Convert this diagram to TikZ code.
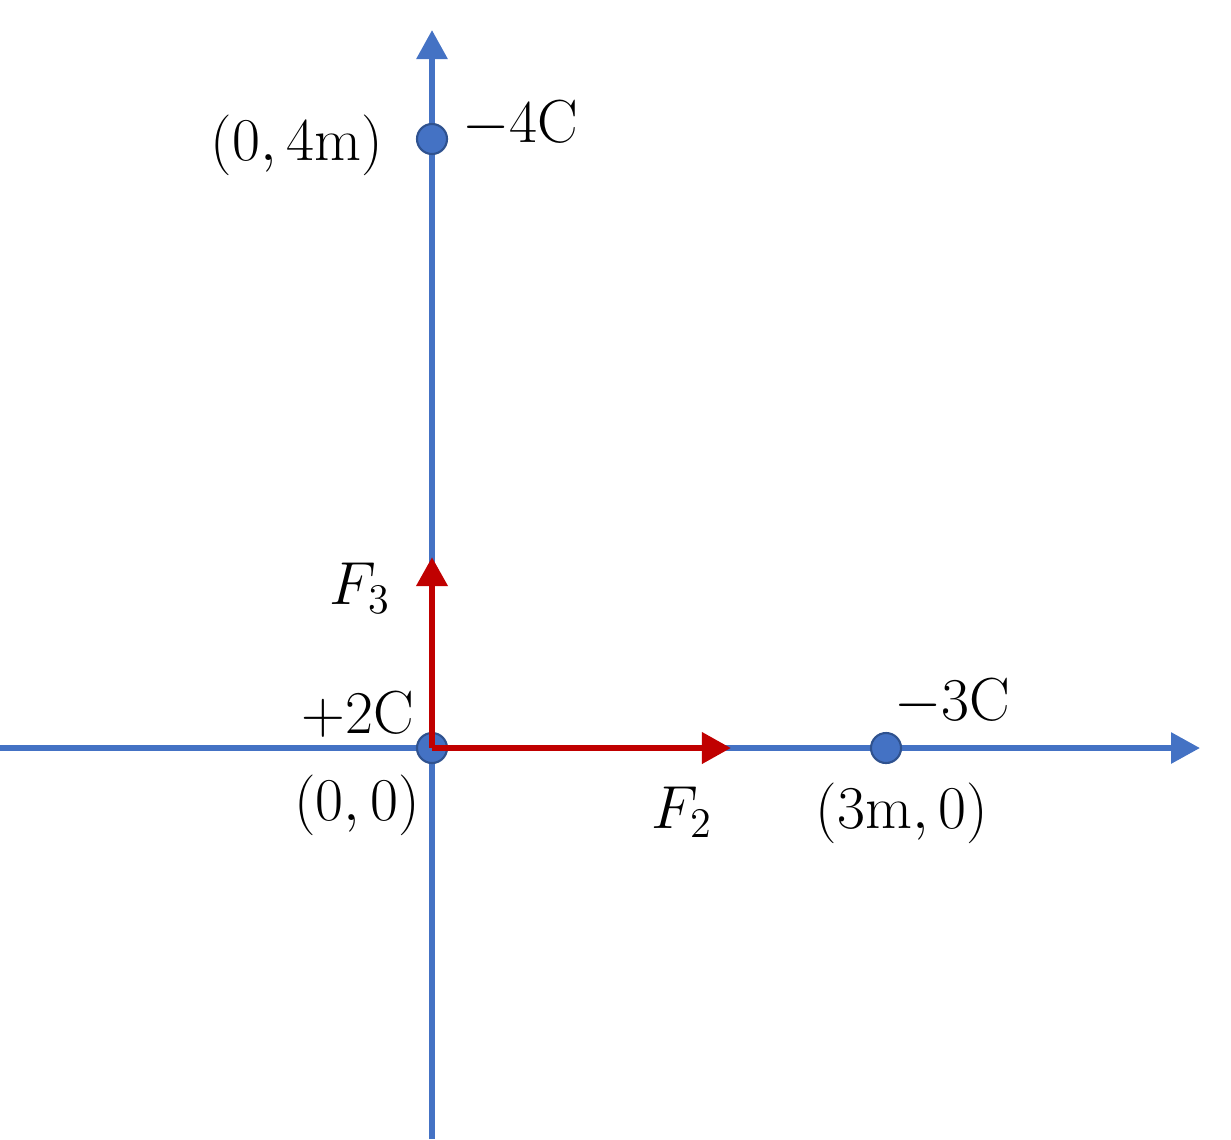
\documentclass[tikz,border=0pt]{standalone}
\usepackage{amsmath}
\usetikzlibrary{arrows.meta}
\definecolor{axisblue}{HTML}{4472C4}
\definecolor{dotedge}{HTML}{2F528F}
\definecolor{forcered}{HTML}{C00000}

\begin{document}
\begin{tikzpicture}[x=0.01cm, y=-0.01cm,
    axis/.style = {draw=axisblue, line width=1.7pt, -{Triangle[length=0.29cm, width=0.3cm]}},
    force/.style = {draw=forcered, line width=1.9pt, -{Triangle[length=0.29cm, width=0.3cm]}},
    charge/.style = {circle, draw=dotedge, fill=axisblue, line width=0.6pt, inner sep=0pt, minimum size=0.3cm},
    lbl/.style = {font=\fontsize{17.28}{20}\selectfont}]
    \useasboundingbox (0,0) rectangle (1231,1139);
    % axes
    \coordinate (xl) at (0,748);
    \coordinate (xr) at (1200,748);
    \coordinate (yb) at (432,1139);
    \coordinate (yt) at (432,30);
    \draw[axis] (xl) -- (xr);
    \draw[axis] (yb) -- (yt);
    % charges
    \node[charge] (q1) at (432,748) {};
    \node[charge] (q2) at (886,748) {};
    \node[charge] (q3) at (432,139) {};
    % forces on q1
    \coordinate (f2) at (731,748);
    \coordinate (f3) at (432,557);
    \draw[force] (q1.center) -- (f2);
    \draw[force] (q1.center) -- (f3);
    % labels
    \node[lbl] (c3) at (520,124) {$-4\mathrm{C}$};
    \node[lbl] (p3) at (297,145) {$(0,4\mathrm{m})$};
    \node[lbl] (n3) at (360,588) {$F_3$};
    \node[lbl] (c1) at (358,715) {$+2\mathrm{C}$};
    \node[lbl] (p1) at (357,805) {$(0,0)$};
    \node[lbl] (n2) at (682,812) {$F_2$};
    \node[lbl] (c2) at (952,702) {$-3\mathrm{C}$};
    \node[lbl] (p2) at (902,813) {$(3\mathrm{m},0)$};
\end{tikzpicture}
\end{document}
